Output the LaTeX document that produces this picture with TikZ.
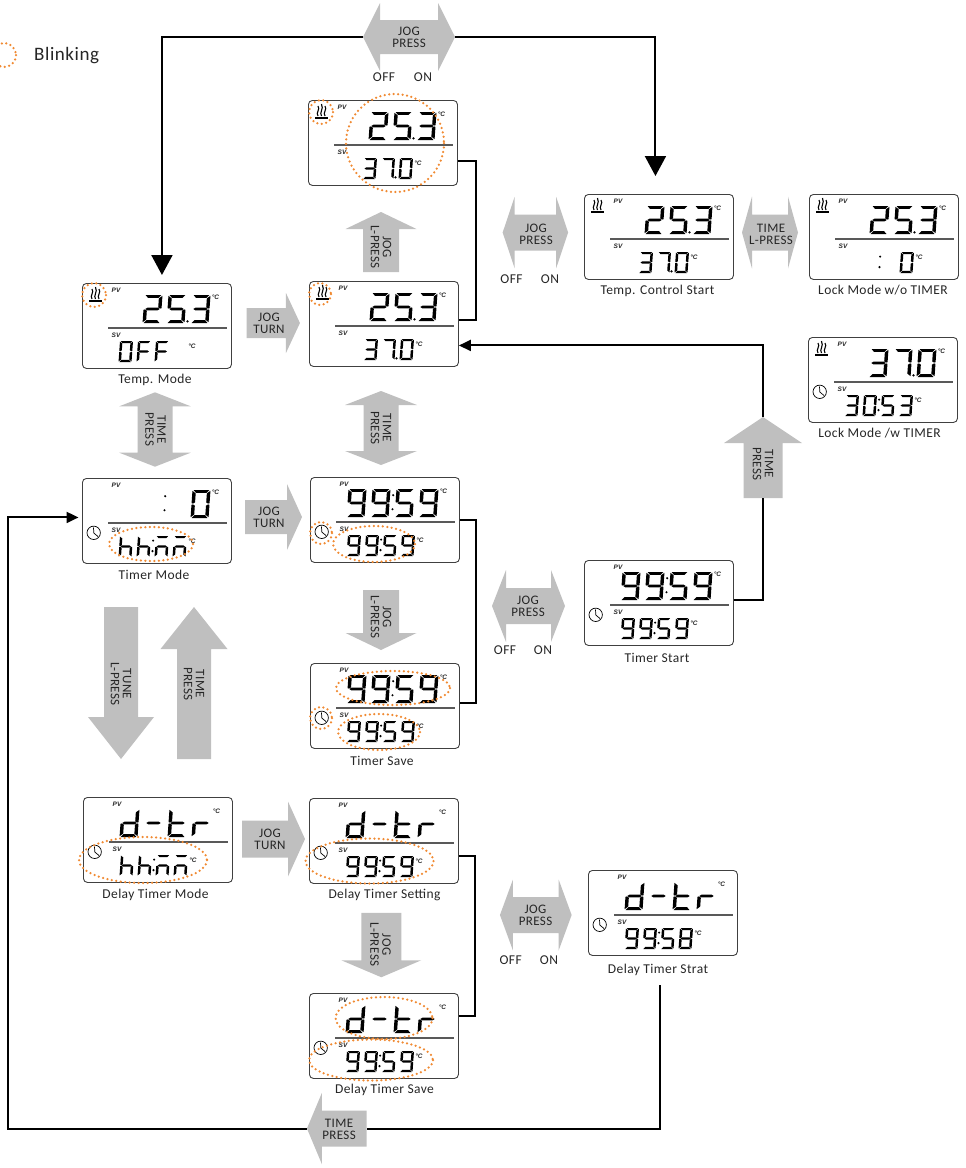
\documentclass[tikz,border=0pt]{standalone}
\usepackage{fontspec}
\setmainfont{Carlito}[LetterSpace=3.0]
\newfontfamily\lcdfont{Liberation Sans}
\usetikzlibrary{arrows.meta,positioning,calc}
\definecolor{blinkorg}{RGB}{240,138,50}
\definecolor{blockgray}{RGB}{191,191,191}
% segments of one lcd digit, 10 wide and 20 high
\def\sga{(0.6,0)--(9.4,0)--(7.9,2.1)--(2.1,2.1)--cycle}
\def\sgb{(10,0.6)--(8.1,2.4)--(8.1,8.8)--(9.2,9.7)--(10,9.4)--cycle}
\def\sgc{(10,10.6)--(9.2,10.3)--(8.1,11.2)--(8.1,17.6)--(10,19.4)--cycle}
\def\sgd{(0.6,20)--(9.4,20)--(7.9,17.9)--(2.1,17.9)--cycle}
\def\sge{(0,10.6)--(0.8,10.3)--(1.9,11.2)--(1.9,17.6)--(0,19.4)--cycle}
\def\sgf{(0,0.6)--(1.9,2.4)--(1.9,8.8)--(0.8,9.7)--(0,9.4)--cycle}
\def\sgg{(1,10)--(2.2,9)--(7.8,9)--(9,10)--(7.8,11)--(2.2,11)--cycle}
\def\sgz{(0,0)}
\expandafter\def\csname dg0\endcsname{a,b,c,d,e,f}
\expandafter\def\csname dg2\endcsname{a,b,g,e,d}
\expandafter\def\csname dg3\endcsname{a,b,g,c,d}
\expandafter\def\csname dg5\endcsname{a,f,g,c,d}
\expandafter\def\csname dg7\endcsname{a,b,c}
\expandafter\def\csname dg8\endcsname{a,b,c,d,e,f,g}
\expandafter\def\csname dg9\endcsname{a,b,c,d,f,g}
\expandafter\def\csname dgF\endcsname{a,f,g,e}
\expandafter\def\csname dgh\endcsname{f,e,g,c}
\expandafter\def\csname dgn\endcsname{a,e,g,c}
\expandafter\def\csname dgd\endcsname{b,c,d,e,g}
\expandafter\def\csname dgt\endcsname{f,e,g,d}
\expandafter\def\csname dgr\endcsname{e,g}
\expandafter\def\csname dg-\endcsname{g}
\expandafter\def\csname dgx\endcsname{z}
\tikzset{
  x=1pt,y=-1pt,
  lcdbox/.style={draw=black!75,line width=0.9pt,rounded corners=4pt,minimum width=149pt,
    minimum height=85pt,anchor=north west,inner sep=0pt},
  lcdink/.style={fill=black},
  lcdrule/.style={black!65,line width=1.2pt},
  lcdtag/.style={font=\lcdfont\bfseries\itshape\fontsize{6.5}{7}\selectfont,inner sep=0pt,text=black!85},
  lcdicon/.style={line width=1.1pt,black},
  paneltxt/.style={font=\fontsize{13.5}{14}\selectfont,text=black!85,inner sep=0pt},
  blocktxt/.style={font=\fontsize{13}{12}\selectfont,align=center,text=black!85,inner sep=0pt},
  offon/.style={font=\fontsize{13.5}{14}\selectfont,text=black!85,inner sep=0pt},
  blockarrow/.style={fill=blockgray},
  blink/.style={draw=blinkorg,line width=2.5pt,line cap=round,dash pattern=on 0pt off 4.5pt},
  wire/.style={line width=2pt,black},
  bigtip/.style={-{Triangle[length=20pt,width=21pt]}},
  smalltip/.style={-{Triangle[length=12pt,width=11pt]}},
}
\newcommand{\lcdrow}[7]{%
  \foreach \chr [count=\idx from 0] in #6 {
    \pgfmathsetmacro\dgx{#1+\idx*#3}
    \begin{scope}[shift={(\dgx,#2)},xslant=.07,xscale=#4/10,yscale=#5/20]
      \edef\seglist{\csname dg\chr\endcsname}
      \foreach \sgm in \seglist {
        \expandafter\let\expandafter\sgp\csname sg\sgm\endcsname
        \fill[lcdink] \sgp;
      }
    \end{scope}
  }
  \pgfmathsetmacro\gapx{(#3-#4)/2}
  \if#7c
    \pgfmathsetmacro\mkx{#1+2*#3-\gapx-0.3}
    \fill[lcdink] (\mkx,{#2+.22*#5}) circle (1.15);
    \fill[lcdink] ({\mkx-0.7},{#2+.72*#5}) circle (1.15);
  \fi
  \if#7p
    \pgfmathsetmacro\mkx{#1+3*#3-\gapx-2}
    \fill[lcdink] (\mkx,{#2+#5-1.6}) circle (1.3);
  \fi
}
\newcommand{\lcdh}{%
  \foreach \wx/\wy in {10/6,13.5/4,17/6}
    \draw[lcdicon] (\wx,16) .. controls (\wx-2.6,12.5) and (\wx+2.6,9.5) .. (\wx,\wy);
  \draw[lcdicon,line width=1.6pt] (7,18) -- (20,18);
}
\newcommand{\lcdc}{%
  \draw[lcdicon,line width=0.7pt] (11.7,54.8) circle (6.7);
  \draw[lcdicon,line width=0.7pt] (11.5,49.5) -- (11.8,55) -- (16,58.5);
}
\newcommand{\lcdb}{\lcdh\lcdc}
\newcommand{\lcdpanel}[8]{%
  \begin{scope}[shift={(#2,#3)}]
    \node[lcdbox] (#1) at (0,0) {};
    \draw[lcdrule] (26,45) -- (145,45);
    \node[lcdtag] (#1-pv) at (34,7.5) {PV};
    \node[lcdtag] (#1-sv) at (34,52.5) {SV};
    \node[lcdtag] (#1-ct) at (133.5,14.5) {°C};
    \node[lcdtag] (#1-cb) at (110,63) {°C};
    \csname lcd#4\endcsname
    \lcdrow{38.5}{12}{24}{18}{28}{#5}{#6}
    \lcdrow{38}{58}{18}{13}{21}{#7}{#8}
  \end{scope}
}
\begin{document}
\begin{tikzpicture}
  \useasboundingbox (0,0) rectangle (966,1168);
  % legend
  \draw[blink] (4,55) circle (12);
  \node[paneltxt,font=\fontsize{19}{20}\selectfont,anchor=west] (legend) at (34,55.5) {Blinking};
  % lcd panels
  \foreach \nm/\px/\py/\ic/\tc/\tm/\bc/\bm in {
    tempmode/82/283/h/{x,2,5,3}/p/{0,F,F}/n,
    heatblink/308/100/h/{x,2,5,3}/p/{x,3,7,0}/p,
    heatset/309/281/h/{x,2,5,3}/p/{x,3,7,0}/p,
    ctrlstart/584/194/h/{x,2,5,3}/p/{x,3,7,0}/p,
    lockno/809/194/h/{x,2,5,3}/p/{x,x,x,0}/c,
    lockyes/808/337/b/{x,3,7,0}/p/{3,0,5,3}/c,
    timermode/82/478/c/{x,x,x,0}/c/{h,h,n,n}/c,
    timerset/310/477/c/{9,9,5,9}/c/{9,9,5,9}/c,
    timersave/310/663/c/{9,9,5,9}/c/{9,9,5,9}/c,
    timerstart/584/560/c/{9,9,5,9}/c/{9,9,5,9}/c,
    delaymode/83/797/c/{d,-,t,r}/n/{h,h,n,n}/c,
    delayset/309/798/c/{d,-,t,r}/n/{9,9,5,9}/c,
    delaysave/309/993/c/{d,-,t,r}/n/{9,9,5,9}/c,
    delaystart/588/870/c/{d,-,t,r}/n/{9,9,5,8}/c} {
    \lcdpanel{\nm}{\px}{\py}{\ic}{\tc}{\tm}{\bc}{\bm}
  }
  % panel captions
  \foreach \nm/\px/\py/\lbl in {
    tempmode/155/379.5/{Temp. Mode},
    ctrlstart/657.5/290.5/{Temp. Control Start},
    lockno/883/290.5/{Lock Mode w/o TIMER},
    lockyes/879.5/433.5/{Lock Mode /w TIMER},
    timermode/154/574.5/{Timer Mode},
    timersave/382/760.5/{Timer Save},
    timerstart/657/657.5/{Timer Start},
    delaymode/155.5/894.5/{Delay Timer Mode},
    delayset/384.5/894.5/{Delay Timer Setting},
    delaysave/384.5/1089.5/{Delay Timer Save},
    delaystart/658/969.5/{Delay Timer Strat}} {
    \node[paneltxt] (\nm-cap) at (\px,\py) {\lbl};
  }
  % blinking marks
  \foreach \cx/\cy/\rx/\ry in {
    94/295/12/12, 321/112/12/12, 395/143/49/49, 320/294/11/11,
    151/544/42/17, 321/533/11/11, 374/544/41/18,
    393/688/57/17, 321/718/11/11, 379/732/41/18,
    143/860/64/23, 369.5/861/64/22.5,
    384/1018/48.5/21, 371/1060/62/20.5} {
    \draw[blink] (\cx,\cy) ellipse ({\rx} and {\ry});
  }
  % grey arrows with one head
  \foreach \nm/\cx/\cy/\ang/\len/\sh/\hd/\hl/\tx/\ty/\rot/\lbl in {
    turna/273.3/323/0/53.3/30/60/14/269/323.5/0/{JOG\\TURN},
    turnb/273.5/517/0/57/34/66/15/269/517/0/{JOG\\TURN},
    turnc/273.5/839/0/63/37/75/17/270/839/0/{JOG\\TURN},
    lpressa/381/242/90/60/36/71/17/381/247/-90/{JOG\\L-PRESS},
    lpressb/381/620/-90/60/36/71/17/381/617/-90/{JOG\\L-PRESS},
    lpressc/381.3/945/-90/64.5/40/80/17/380.5/944.5/-90/{JOG\\L-PRESS},
    tunedown/121/683/-90/152/34/66/42/121/684/-90/{TUNE\\L-PRESS},
    timeup/194/683/90/152/34/67/42/194/684/-90/{TIME\\PRESS},
    timeside/763/457.5/90/81/39/78/26/763/464/-90/{TIME\\PRESS},
    timeback/336.8/1128.5/180/59.7/36/71.5/15/339/1129/0/{TIME\\PRESS}} {
    \begin{scope}[shift={(\cx,\cy)},rotate=\ang]
      \fill[blockarrow] ({-\len/2},{-\sh/2}) -- ({\len/2-\hl},{-\sh/2}) -- ({\len/2-\hl},{-\hd/2})
        -- ({\len/2},0) -- ({\len/2-\hl},{\hd/2}) -- ({\len/2-\hl},{\sh/2}) -- ({-\len/2},{\sh/2}) -- cycle;
      \coordinate (\nm-tip) at ({\len/2},0);
      \coordinate (\nm-tail) at ({-\len/2},0);
    \end{scope}
    \node[blocktxt,rotate=\rot] (\nm) at (\tx,\ty) {\lbl};
  }
  % grey arrows with two heads
  \foreach \nm/\cx/\cy/\ang/\len/\sh/\hd/\hl/\tx/\ty/\rot/\lbl in {
    jogtop/409/37/0/92/34/68/17/409/37/0/{JOG\\PRESS},
    jogctrl/535.4/232.5/0/65.5/36/71.5/12/536/234/0/{JOG\\PRESS},
    timelock/770/232.5/0/56/36/72/10/771/234/0/{TIME\\L-PRESS},
    jogtimer/528.5/606/0/73/36/72/14/528/606/0/{JOG\\PRESS},
    jogdelay/535.8/915/0/71.7/36/71/13/535.5/915/0/{JOG\\PRESS},
    timea/155/429.5/90/74.4/35/71.4/14/155.5/429.5/-90/{TIME\\PRESS},
    timeb/381/428/90/74/35/72/14/381/428/-90/{TIME\\PRESS}} {
    \begin{scope}[shift={(\cx,\cy)},rotate=\ang]
      \fill[blockarrow] ({-\len/2},0) -- ({-\len/2+\hl},{-\hd/2}) -- ({-\len/2+\hl},{-\sh/2})
        -- ({\len/2-\hl},{-\sh/2}) -- ({\len/2-\hl},{-\hd/2}) -- ({\len/2},0) -- ({\len/2-\hl},{\hd/2})
        -- ({\len/2-\hl},{\sh/2}) -- ({-\len/2+\hl},{\sh/2}) -- ({-\len/2+\hl},{\hd/2}) -- cycle;
      \coordinate (\nm-tipa) at ({-\len/2},0);
      \coordinate (\nm-tipb) at ({\len/2},0);
    \end{scope}
    \node[blocktxt,rotate=\rot] (\nm) at (\tx,\ty) {\lbl};
  }
  \foreach \nm/\px/\py/\lbl in {
    offa/384/77/OFF, ona/423/77/ON, offb/511.5/279/OFF, onb/550/279/ON,
    offc/505/650/OFF, onc/543/650/ON, offd/510.7/960/OFF, ond/549/960/ON} {
    \node[offon] (\nm) at (\px,\py) {\lbl};
  }
  % connectors
  \coordinate (delayfoot) at (660,985);
  \coordinate (leftrun) at (8,1128.5);
  \draw[wire,bigtip,shorten >=8pt] (jogtop-tipa) -| ([xshift=5pt]tempmode.north);
  \draw[wire,bigtip,shorten >=18pt] (jogtop-tipb) -| ([xshift=-3.5pt]ctrlstart.north);
  \draw[wire] ([yshift=-18pt]heatblink.east) -- ++(18,0) |- ([yshift=3.5pt]heatset.east);
  \draw[wire] (timerset.east) -- ++(16,0) |- ([yshift=2.5pt]timersave.east);
  \draw[wire] ([yshift=-15.5pt]delayset.east) -- ++(16,0) |- ([yshift=19.5pt]delaysave.east);
  \draw[wire] ([yshift=2.5pt]timerstart.east) -| (timeside-tail);
  \draw[wire,smalltip] (timeside-tip) |- ([yshift=-21.5pt]heatset.east);
  \draw[wire] (delayfoot) |- (timeback-tail);
  \draw[wire,smalltip,shorten >=3.5pt] (timeback-tip) -- (leftrun) |- ([yshift=3.5pt]timermode.west);
\end{tikzpicture}
\end{document}
